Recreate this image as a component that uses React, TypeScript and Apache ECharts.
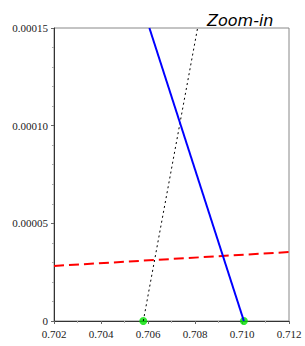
import React, { useEffect, useRef } from "react";
import * as echarts from "echarts";

const blueLine: [number, number][] = [
  [0.70606, 0.00015],
  [0.71008, 0],
];
const dottedLine: [number, number][] = [
  [0.7058, 0],
  [0.70811, 0.00015],
];
const redLine: [number, number][] = [
  [0.702, 0.0000282],
  [0.712, 0.0000353],
];
const greenPoints: [number, number][] = [
  [0.7058, 0],
  [0.71008, 0],
];
const title = "Zoom-in";

const labelFont = "Liberation Serif";

export default function App() {
  const ref = useRef<HTMLDivElement>(null);
  useEffect(() => {
    const chart = echarts.init(ref.current!, null, { renderer: "svg" });
    chart.setOption({
      animation: false,
      title: {
        text: title,
        left: 202,
        top: 7,
        textStyle: {
          fontFamily: "DejaVu Sans",
          fontStyle: "italic",
          fontWeight: "normal",
          fontSize: 16,
          color: "#000",
        },
      },
      grid: {
        left: 54,
        right: 16,
        top: 28,
        bottom: 25,
        show: true,
        borderColor: "#888",
        borderWidth: 1,
      },
      xAxis: {
        type: "value",
        min: 0.702,
        max: 0.712,
        interval: 0.002,
        axisLine: { lineStyle: { color: "#333", width: 1 } },
        axisTick: { show: true, length: 3, lineStyle: { color: "#666" } },
        minorTick: { show: true, splitNumber: 2, length: 2, lineStyle: { color: "#aaa" } },
        splitLine: { show: false },
        axisLabel: {
          fontFamily: labelFont,
          fontSize: 11,
          color: "#222",
          margin: 7,
          formatter: (v: number) => v.toFixed(3),
        },
      },
      yAxis: {
        type: "value",
        min: 0,
        max: 0.00015,
        interval: 0.00005,
        axisLine: { show: true, lineStyle: { color: "#333", width: 1 } },
        axisTick: { show: true, length: 3, lineStyle: { color: "#666" } },
        minorTick: { show: true, splitNumber: 5, length: 2, lineStyle: { color: "#aaa" } },
        splitLine: { show: false },
        axisLabel: {
          fontFamily: labelFont,
          fontSize: 11,
          color: "#222",
          margin: 6,
          formatter: (v: number) => (v === 0 ? "0" : v.toFixed(5)),
        },
      },
      series: [
        {
          type: "line",
          data: redLine,
          symbol: "none",
          lineStyle: { color: "#ff0000", width: 2, type: [10, 5] },
        },
        {
          type: "line",
          data: dottedLine,
          symbol: "none",
          lineStyle: { color: "#000", width: 1, type: [2, 3] },
        },
        {
          type: "line",
          data: blueLine,
          symbol: "none",
          lineStyle: { color: "#0000ff", width: 2 },
        },
        {
          type: "scatter",
          data: greenPoints,
          symbolSize: 8,
          itemStyle: { color: "#00e000" },
        },
      ],
    });
    return () => chart.dispose();
  }, []);
  return (
    <div
      ref={ref}
      style={{ position: "fixed", left: 0, top: 0, width: 305, height: 346, background: "#fff" }}
    />
  );
}
